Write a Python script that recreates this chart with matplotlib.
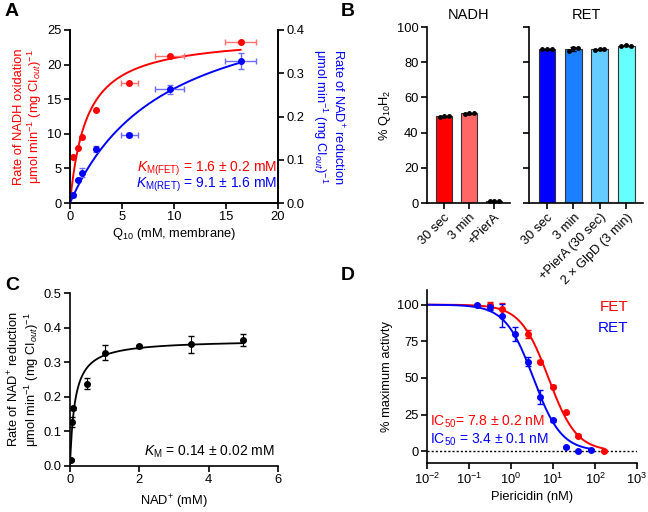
import matplotlib
matplotlib.use("Agg")
import matplotlib.pyplot as plt
import numpy as np

plt.rcParams["font.family"] = ["Liberation Sans", "DejaVu Sans"]
plt.rcParams["mathtext.fontset"] = "custom"
plt.rcParams["mathtext.rm"] = "Liberation Sans"
plt.rcParams["mathtext.it"] = "Liberation Sans:italic"
plt.rcParams["font.size"] = 9.3
plt.rcParams["axes.linewidth"] = 1.2

RED = "#ff0000"
BLUE = "#0000ff"
FS = 9.3

# A: Q10 titration
q10_fet = [0.25, 0.75, 1.2, 2.5, 5.7, 9.6, 16.4]
rate_fet = [6.7, 8.0, 9.5, 13.5, 17.4, 21.2, 23.3]
q10_fet_err = [0, 0, 0, 0, 0.8, 1.4, 1.5]
q10_ret = [0.25, 0.75, 1.2, 2.5, 5.7, 9.6, 16.4]
rate_ret = [0.018, 0.053, 0.070, 0.125, 0.157, 0.263, 0.328]
rate_ret_err = [0.003, 0.003, 0.010, 0.006, 0.004, 0.010, 0.018]
q10_ret_err = [0, 0, 0, 0, 0.8, 1.4, 1.5]
vmax_fet, km_fet = 24.3, 1.6
vmax_ret, km_ret = 0.505, 9.1

# B: Q10 reduction state
nadh_labels = ["30 sec", "3 min", "+PierA"]
nadh_values = [49.3, 51.0, 1.0]
nadh_reps = [[49.0, 49.5, 49.4], [50.8, 51.2, 51.0], [0.9, 1.1, 1.0]]
nadh_colors = ["#ff0000", "#ff6666", "#ff9999"]
ret_labels = ["30 sec", "3 min", "+PierA (30 sec)", "2 × GlpD (3 min)"]
ret_values = [87.5, 87.5, 87.3, 89.3]
ret_reps = [[87.4, 87.6, 87.5], [86.3, 88.2, 88.0], [86.8, 87.6, 87.5], [89.0, 89.6, 89.3]]
ret_colors = ["#0000ff", "#1a80ff", "#66ccff", "#66ffff"]

# C: NAD+ titration
nad = [0.02, 0.05, 0.1, 0.5, 1.0, 2.0, 3.5, 5.0]
rate_nad = [0.018, 0.128, 0.167, 0.238, 0.328, 0.346, 0.352, 0.364]
rate_nad_err = [0.003, 0.015, 0.004, 0.015, 0.023, 0.005, 0.025, 0.018]
vmax_nad, km_nad = 0.365, 0.14

# D: piericidin inhibition
pier_fet = [0.3125, 0.625, 2.5, 5, 10, 20, 40, 160]
act_fet = [99.5, 97.0, 80.0, 61.0, 44.0, 26.5, 10.5, 0.3]
act_fet_err = [2.5, 4.0, 3.0, 1.0, 1.0, 1.0, 1.0, 0.5]
pier_ret = [0.156, 0.3125, 0.625, 1.25, 2.5, 5, 10, 20, 40, 80]
act_ret = [100.0, 98.5, 92.5, 80.0, 61.0, 37.0, 21.0, 3.0, 0.0, 1.0]
act_ret_err = [0.5, 2.0, 8.0, 5.0, 3.0, 5.0, 1.0, 0.5, 0.5, 0.5]
ic50_fet, hill_fet = 7.8, 1.3
ic50_ret, hill_ret = 3.4, 1.3


def style_axis(ax):
    ax.spines["top"].set_visible(False)
    ax.spines["right"].set_visible(False)
    ax.tick_params(direction="out", length=4, width=1.2, labelsize=FS, pad=2)


fig = plt.figure(figsize=(6.48, 5.12), dpi=100)
W, H = 648, 512


def add_axes(left, top, right, bottom):
    return fig.add_axes([left / W, 1 - bottom / H, (right - left) / W, (bottom - top) / H])


# ---- A ----
ax = add_axes(70, 30, 278, 203)
ax2 = ax.twinx()
xs = np.linspace(0, 16.4, 200)
ax.plot(xs, vmax_fet * xs / (km_fet + xs), color=RED, lw=1.4)
ax.errorbar(q10_fet, rate_fet, xerr=q10_fet_err, fmt="none", ecolor="#ff7070", elinewidth=1, capsize=2.5)
ax.plot(q10_fet, rate_fet, "o", color=RED, ms=4)
ax2.plot(xs, vmax_ret * xs / (km_ret + xs), color=BLUE, lw=1.4)
ax2.errorbar(q10_ret, rate_ret, xerr=q10_ret_err, yerr=rate_ret_err, fmt="none",
             ecolor="#6c6cff", elinewidth=1, capsize=2.5)
ax2.plot(q10_ret, rate_ret, "o", color=BLUE, ms=4)
ax.set_xlim(0, 20)
ax.set_ylim(0, 25)
ax2.set_ylim(0, 0.4)
ax.set_xticks([0, 5, 10, 15, 20])
ax.set_yticks([0, 5, 10, 15, 20, 25])
ax2.set_yticks([0, 0.1, 0.2, 0.3, 0.4])
ax2.set_yticklabels(["0.0", "0.1", "0.2", "0.3", "0.4"])
for a in (ax, ax2):
    a.spines["top"].set_visible(False)
    a.tick_params(direction="out", length=4, width=1.2, labelsize=FS, pad=2)
ax.set_xlabel(r"Q$_{10}$ (mM, membrane)", labelpad=2)
ax.set_ylabel("Rate of NADH oxidation\n" + r"μmol min$^{-1}$ (mg CI$_{out}$)$^{-1}$",
              color=RED, labelpad=2, linespacing=1.1)
ax2.set_ylabel("Rate of NAD$^{+}$ reduction\n" + r"μmol min$^{-1}$ (mg CI$_{out}$)$^{-1}$",
               color=BLUE, rotation=270, labelpad=30, linespacing=1.1)
ax.text(19.9, 5.0, r"$K_{\mathrm{M(FET)}}$ = 1.6 ± 0.2 mM", color=RED, ha="right", va="center", fontsize=10)
ax.text(19.9, 2.6, r"$K_{\mathrm{M(RET)}}$ = 9.1 ± 1.6 mM", color=BLUE, ha="right", va="center", fontsize=10)

# ---- B ----
for left, right, labels, values, reps, colors, title in [
    (427, 510, nadh_labels, nadh_values, nadh_reps, nadh_colors, "NADH"),
    (529, 643, ret_labels, ret_values, ret_reps, ret_colors, "RET"),
]:
    bx = add_axes(left, 27, right, 203)
    pos = np.arange(len(labels))
    bx.bar(pos, values, width=0.64, color=colors, edgecolor="#333333", linewidth=0.8)
    for p, r in zip(pos, reps):
        bx.errorbar(p, np.mean(r), yerr=np.std(r), fmt="none", ecolor="black", elinewidth=1, capsize=2.5)
        bx.plot(p + np.array([-0.18, 0, 0.18]), r, "o", color="black", ms=2.5)
    bx.set_xlim(-0.68, len(labels) - 1 + 0.64)
    bx.set_ylim(0, 100)
    bx.set_yticks([0, 20, 40, 60, 80, 100])
    bx.set_xticks(pos)
    bx.set_xticklabels(labels, rotation=45, ha="right", rotation_mode="anchor")
    bx.set_title(title, fontsize=10.5, pad=6)
    style_axis(bx)
    if title == "NADH":
        bx.set_ylabel(r"% Q$_{10}$H$_2$", labelpad=3)
    else:
        bx.set_yticklabels([])

# ---- C ----
cx = add_axes(70, 293, 278, 466)
xs = np.linspace(0, 5, 300)
cx.plot(xs, vmax_nad * xs / (km_nad + xs), color="black", lw=1.3)
cx.errorbar(nad, rate_nad, yerr=rate_nad_err, fmt="o", color="black", ms=4, elinewidth=0.8, capsize=2.5)
cx.set_xlim(0, 6)
cx.set_ylim(0, 0.5)
cx.set_xticks([0, 2, 4, 6])
cx.set_yticks([0, 0.1, 0.2, 0.3, 0.4, 0.5])
cx.set_yticklabels(["0.0", "0.1", "0.2", "0.3", "0.4", "0.5"])
style_axis(cx)
cx.set_xlabel("NAD$^{+}$ (mM)", labelpad=5)
cx.set_ylabel("Rate of NAD$^{+}$ reduction\n" + r"μmol min$^{-1}$ (mg CI$_{out}$)$^{-1}$",
              labelpad=2, linespacing=1.1)
cx.text(5.9, 0.04, r"$K_{\mathrm{M}}$ = 0.14 ± 0.02 mM", ha="right", va="center", fontsize=10)

# ---- D ----
dx = add_axes(427, 290, 637, 463)
dx.set_xscale("log")
xf = np.logspace(-2, np.log10(160), 300)
xr = np.logspace(-2, np.log10(80), 300)
dx.axhline(0, color="black", ls=(0, (1.5, 1.5)), lw=1)
dx.plot(xf, 100 / (1 + (xf / ic50_fet) ** hill_fet), color=RED, lw=1.4)
dx.plot(xr, 100 / (1 + (xr / ic50_ret) ** hill_ret), color=BLUE, lw=1.4)
dx.errorbar(pier_fet, act_fet, yerr=act_fet_err, fmt="o", color=RED, ms=4, elinewidth=1, capsize=2.5)
dx.errorbar(pier_ret, act_ret, yerr=act_ret_err, fmt="o", color=BLUE, ms=4, elinewidth=1, capsize=2.5)
dx.set_xlim(1e-2, 1e3)
dx.set_ylim(-8, 110)
dx.set_yticks([0, 25, 50, 75, 100])
dx.set_xticks([1e-2, 1e-1, 1e0, 1e1, 1e2, 1e3])
dx.minorticks_off()
style_axis(dx)
dx.set_xlabel("Piericidin (nM)", labelpad=3)
dx.set_ylabel("% maximum activty", labelpad=3)
dx.text(0.96, 0.88, "FET", color=RED, transform=dx.transAxes, ha="right", fontsize=11)
dx.text(0.96, 0.76, "RET", color=BLUE, transform=dx.transAxes, ha="right", fontsize=11)
dx.text(0.0115, 20, "IC$_{50}$= 7.8 ± 0.2 nM", color=RED, fontsize=10, va="center")
dx.text(0.0115, 8, "IC$_{50}$ = 3.4 ± 0.1 nM", color=BLUE, fontsize=10, va="center")

# panel letters
for letter, x, y in [("A", 5, 3), ("B", 341, 3), ("C", 5, 277), ("D", 341, 267)]:
    fig.text(x / W, 1 - y / H, letter, fontsize=14, fontweight="bold", va="top")

fig.savefig("out.png", dpi=100)
